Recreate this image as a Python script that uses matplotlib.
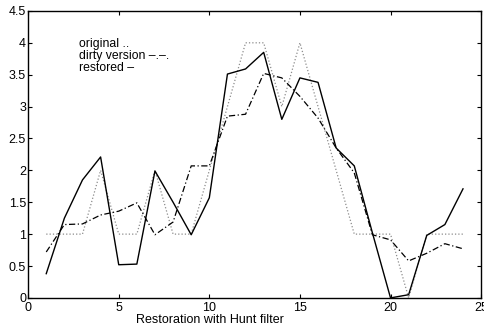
import numpy as np
import matplotlib
matplotlib.use('Agg')
import matplotlib.pyplot as plt

plt.rcParams['font.family'] = ['Liberation Sans', 'DejaVu Sans']

# 数据
x = np.arange(1, 25)
original = [1, 1, 1, 2, 1, 1, 2, 1, 1, 2, 3, 4, 4, 3, 4, 3, 2, 1, 1, 1, 0, 1, 1, 1]
dirty = [0.72, 1.15, 1.16, 1.30, 1.36, 1.49, 0.99, 1.19, 2.07, 2.07, 2.85, 2.88,
         3.52, 3.45, 3.16, 2.82, 2.35, 1.96, 0.99, 0.91, 0.58, 0.70, 0.85, 0.77]
restored = [0.38, 1.25, 1.85, 2.21, 0.52, 0.53, 1.99, 1.50, 0.99, 1.57, 3.51, 3.59,
            3.85, 2.80, 3.45, 3.38, 2.35, 2.07, 1.02, 0.00, 0.05, 0.98, 1.15, 1.71]

xticks = [0, 5, 10, 15, 20, 25]
yticks = [0, 0.5, 1, 1.5, 2, 2.5, 3, 3.5, 4, 4.5]
ytick_labels = ['0', '0.5', '1', '1.5', '2', '2.5', '3', '3.5', '4', '4.5']

fig = plt.figure(figsize=(4.85, 3.31), dpi=100)
ax = fig.add_axes([0.058, 0.100, 0.934, 0.867])

ax.plot(x, original, linestyle=':', color='0.55', linewidth=0.9)
ax.plot(x, dirty, linestyle='-.', color='black', linewidth=0.9, dashes=(5, 2, 1, 2))
ax.plot(x, restored, linestyle='-', color='black', linewidth=1.0)

# 图例文字
ax.text(2.83, 3.98, 'original ..', fontsize=8.8, va='center', ha='left')
ax.text(2.83, 3.79, 'dirty version \u2013.\u2013.', fontsize=8.8, va='center', ha='left')
ax.text(2.83, 3.60, 'restored \u2013', fontsize=8.8, va='center', ha='left')

ax.set_xlim(0, 25)
ax.set_ylim(0, 4.5)
ax.set_xticks(xticks)
ax.set_xticklabels([str(t) for t in xticks])
ax.set_yticks(yticks)
ax.set_yticklabels(ytick_labels)
ax.tick_params(direction='in', top=True, right=True, length=3, width=0.8,
               labelsize=9)
ax.tick_params(axis='y', pad=1.5)
ax.tick_params(axis='x', pad=3)
for s in ax.spines.values():
    s.set_linewidth(1.0)
ax.set_xlabel('Restoration with Hunt filter', fontsize=9)
ax.xaxis.set_label_coords(10.05 / 25, -0.055)

fig.savefig('out.png', dpi=100)
